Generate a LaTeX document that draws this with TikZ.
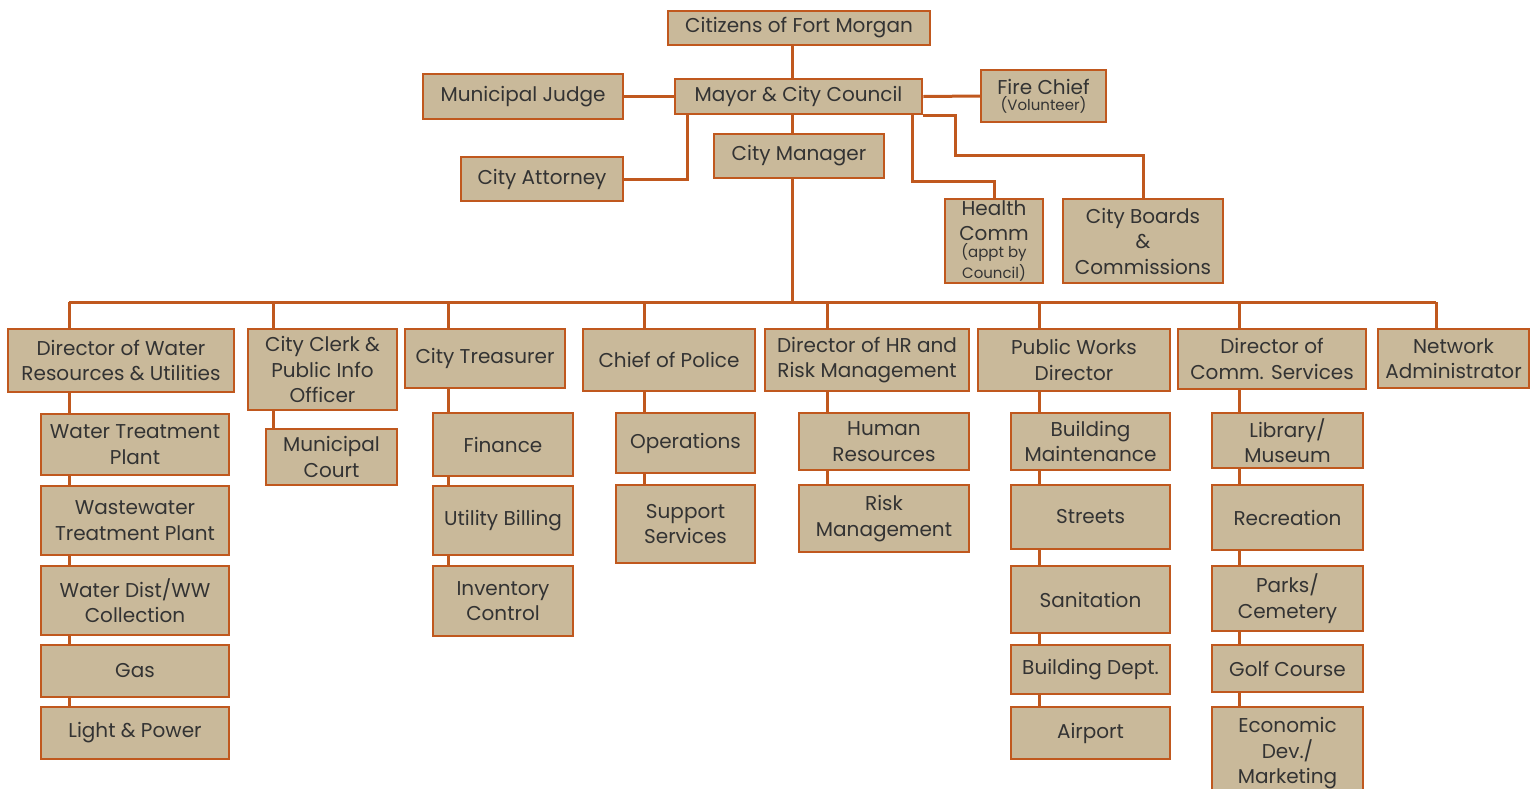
\documentclass[tikz,border=0pt]{standalone}
\usepackage{fontspec}
\setmainfont{Poppins}
\usetikzlibrary{backgrounds}

\definecolor{boxfill}{HTML}{C9B99A}
\definecolor{rust}{HTML}{C0581E}
\definecolor{ink}{HTML}{333333}

\tikzset{
  unit/.style={draw=rust, line width=2.5pt, fill=boxfill, text=ink, align=center,
    inner sep=0pt, font=\fontsize{20}{25.5}\selectfont},
  link/.style={draw=rust, line width=3pt},
}
\newcommand{\smalltext}{\fontsize{15}{16}\selectfont}

\begin{document}
\begin{tikzpicture}[x=1pt, y=-1pt]
  \useasboundingbox (0,0) rectangle (1536,788);

  % top of the chart
  \node[unit, minimum width=262pt, minimum height=34pt] (cit) at (799,28) {Citizens of Fort Morgan};
  \node[unit, minimum width=247pt, minimum height=35pt] (mayor) at (798.5,96.5) {Mayor \& City Council};
  \node[unit, minimum width=200pt, minimum height=45pt] (judge) at (523,96.5) {Municipal Judge};
  \node[unit, minimum width=125pt, minimum height=52pt] (fire) at (1043.5,96) {Fire Chief\\[-9pt]{\smalltext (Volunteer)}};
  \node[unit, minimum width=162pt, minimum height=44pt] (atty) at (542,179) {City Attorney};
  \node[unit, minimum width=170pt, minimum height=44pt] (mgr) at (799,156) {City Manager};
  \node[unit, minimum width=98pt, minimum height=84pt] (health) at (994,241) {Health\\[-1pt]Comm\\[-8pt]{\smalltext (appt by}\\[-5pt]{\smalltext Council)}};
  \node[unit, minimum width=160pt, minimum height=84pt] (boards) at (1143,241) {City Boards\\\&\\Commissions};

  % directors
  \node[unit, minimum width=226pt, minimum height=63pt] (d1) at (121,360.5) {Director of Water\\Resources \& Utilities};
  \node[unit, minimum width=149pt, minimum height=81pt] (d2) at (322.5,369.5) {City Clerk \&\\Public Info\\Officer};
  \node[unit, minimum width=160pt, minimum height=59pt] (d3) at (485,358.5) {City Treasurer};
  \node[unit, minimum width=172pt, minimum height=62pt] (d4) at (669,360) {Chief of Police};
  \node[unit, minimum width=204pt, minimum height=62pt] (d5) at (867,360) {Director of HR and\\Risk Management};
  \node[unit, minimum width=192pt, minimum height=62pt] (d6) at (1074,360) {Public Works\\Director};
  \node[unit, minimum width=188pt, minimum height=60pt] (d7) at (1272,359) {Director of\\Comm. Services};
  \node[unit, minimum width=151pt, minimum height=59pt] (d8) at (1453.5,358.5) {Network\\Administrator};

  % water
  \node[unit, minimum width=188pt, minimum height=61pt] (w1) at (135,444.5) {Water Treatment\\Plant};
  \node[unit, minimum width=188pt, minimum height=69pt] (w2) at (135,520.5) {Wastewater\\Treatment Plant};
  \node[unit, minimum width=188pt, minimum height=69pt] (w3) at (135,600.5) {Water Dist/WW\\Collection};
  \node[unit, minimum width=188pt, minimum height=52pt] (w4) at (135,671) {Gas};
  \node[unit, minimum width=188pt, minimum height=52pt] (w5) at (135,733) {Light \& Power};

  % clerk
  \node[unit, minimum width=131pt, minimum height=56pt] (c1) at (331.5,457) {Municipal\\Court};

  % treasurer
  \node[unit, minimum width=140pt, minimum height=63pt] (t1) at (503,444.5) {Finance};
  \node[unit, minimum width=140pt, minimum height=69pt] (t2) at (503,520.5) {Utility Billing};
  \node[unit, minimum width=140pt, minimum height=70pt] (t3) at (503,601) {Inventory\\Control};

  % police
  \node[unit, minimum width=139pt, minimum height=60pt] (p1) at (685.5,443) {Operations};
  \node[unit, minimum width=139pt, minimum height=78pt] (p2) at (685.5,524) {Support\\Services};

  % hr
  \node[unit, minimum width=170pt, minimum height=57pt] (h1) at (884,441.5) {Human\\Resources};
  \node[unit, minimum width=170pt, minimum height=67pt] (h2) at (884,518.5) {Risk\\Management};

  % public works
  \node[unit, minimum width=159pt, minimum height=57pt] (pw1) at (1090.5,441.5) {Building\\Maintenance};
  \node[unit, minimum width=159pt, minimum height=64pt] (pw2) at (1090.5,517) {Streets};
  \node[unit, minimum width=159pt, minimum height=67pt] (pw3) at (1090.5,599.5) {Sanitation};
  \node[unit, minimum width=159pt, minimum height=49pt] (pw4) at (1090.5,669.5) {Building Dept.};
  \node[unit, minimum width=159pt, minimum height=52pt] (pw5) at (1090.5,733) {Airport};

  % community services
  \node[unit, minimum width=151pt, minimum height=55pt] (cs1) at (1287.5,440.5) {Library/\\Museum};
  \node[unit, minimum width=151pt, minimum height=65pt] (cs2) at (1287.5,517.5) {Recreation};
  \node[unit, minimum width=151pt, minimum height=65pt] (cs3) at (1287.5,598.5) {Parks/\\Cemetery};
  \node[unit, minimum width=151pt, minimum height=47pt] (cs4) at (1287.5,668.5) {Golf Course};
  \node[unit, minimum width=151pt, minimum height=93pt] (cs5) at (1287.5,753.5) {Economic\\Dev./\\Marketing};

  \coordinate (spine) at (792,302);
  \coordinate (abend) at (687,179);
  \coordinate (hbend) at (912,181);
  \coordinate (bbend) at (955,155);
  \coordinate (b1) at (69,302);
  \coordinate (b2) at (273,302);
  \coordinate (b3) at (448,302);
  \coordinate (b4) at (644,302);
  \coordinate (b5) at (827,302);
  \coordinate (b6) at (1039,302);
  \coordinate (b7) at (1239,302);
  \coordinate (b8) at (1436,302);

  \begin{scope}[on background layer]
    \draw[link] (cit.south -| spine) -- (spine);
    \draw[link] (mayor.west) -- (judge.east);
    \draw[link] (mayor.east) -- (fire.west);
    \draw[link] (mayor.south -| abend) -- (abend) -- (atty.east);
    \draw[link] (mayor.south -| hbend) -- (hbend) -| (health.north);
    \draw[link] (mayor.south east) -| (bbend) -| (boards.north);
    \draw[link] (b1) -- (b8);
    \foreach \b/\n in {b1/w5, b2/c1, b3/t3, b4/p2, b5/h2, b6/pw5, b7/cs5, b8/d8}
      \draw[link] (\b) -- (\n.north -| \b);
  \end{scope}
\end{tikzpicture}
\end{document}
